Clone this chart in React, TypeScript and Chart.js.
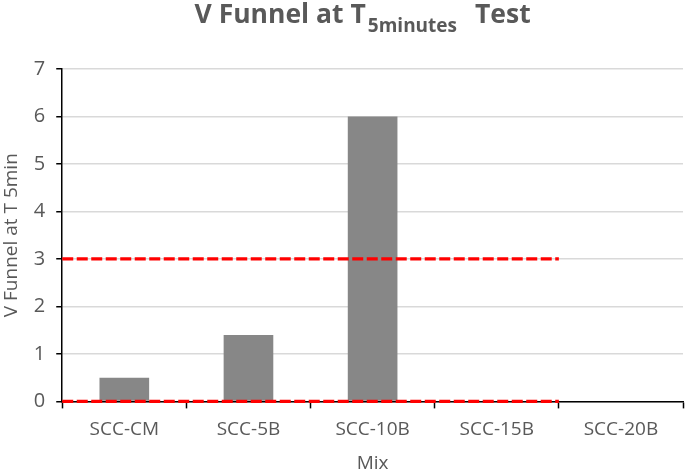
import React, { useEffect, useRef } from "react";
import { Chart, registerables } from "chart.js";

Chart.register(...registerables);

const categories = ["SCC-CM", "SCC-5B", "SCC-10B", "SCC-15B", "SCC-20B"];
const values = [0.5, 1.4, 6, 0, 0];
const upperLimit = [
  { x: -0.5, y: 3 },
  { x: 3.5, y: 3 },
];
const lowerLimit = [
  { x: -0.5, y: 0 },
  { x: 3.5, y: 0 },
];
const yTickMax = 7;
const titleMain = "V Funnel at T";
const titleSub = "5minutes";
const titleEnd = "Test";
const yTitle = "V Funnel at T 5min";
const xTitle = "Mix";

const FONT = '"Open Sans", sans-serif';
const TEXT = "#595959";

const titlePlugin = {
  id: "subTitle",
  afterDraw(chart: any) {
    const ctx = chart.ctx;
    const area = chart.chartArea;
    ctx.save();
    ctx.fillStyle = TEXT;
    ctx.textBaseline = "alphabetic";
    ctx.textAlign = "left";
    const mainFont = `bold 26.5px ${FONT}`;
    const subFont = `bold 19px ${FONT}`;
    ctx.font = mainFont;
    const w1 = ctx.measureText(titleMain).width;
    const w3 = ctx.measureText(titleEnd).width;
    ctx.font = subFont;
    const w2 = ctx.measureText(titleSub).width;
    const gap1 = 2;
    const gap2 = 18;
    const total = w1 + gap1 + w2 + gap2 + w3;
    const cx = (area.left + area.right) / 2 - 10;
    let x = cx - total / 2;
    const base = 23;
    ctx.font = mainFont;
    ctx.fillText(titleMain, x, base);
    x += w1 + gap1;
    ctx.font = subFont;
    ctx.fillText(titleSub, x, base + 9);
    x += w2 + gap2;
    ctx.font = mainFont;
    ctx.fillText(titleEnd, x, base);
    ctx.restore();
  },
};

export default function App() {
  const ref = useRef<HTMLCanvasElement | null>(null);
  useEffect(() => {
    if (!ref.current) return;
    const chart = new Chart(ref.current, {
      type: "bar",
      data: {
        labels: categories,
        datasets: [
          {
            type: "bar",
            data: values,
            backgroundColor: "#878787",
            borderWidth: 0,
            barPercentage: 0.4,
            categoryPercentage: 1,
            grouped: false,
            xAxisID: "x",
            order: 2,
          } as any,
          {
            type: "line",
            data: upperLimit,
            xAxisID: "x2",
            borderColor: "#ff0000",
            borderWidth: 3.2,
            borderDash: [11, 3.5],
            pointRadius: 0,
            clip: false,
            order: 1,
          } as any,
          {
            type: "line",
            data: lowerLimit,
            xAxisID: "x2",
            borderColor: "#ff0000",
            borderWidth: 3.2,
            borderDash: [11, 3.5],
            pointRadius: 0,
            clip: false,
            order: 1,
          } as any,
        ],
      },
      options: {
        responsive: false,
        animation: false,
        devicePixelRatio: 1,
        layout: { padding: { top: 69, right: 2, left: 0, bottom: 0 } },
        plugins: {
          legend: { display: false },
          title: { display: false },
          tooltip: { enabled: false },
        },
        scales: {
          x: {
            type: "category",
            offset: true,
            grid: {
              offset: true,
              drawOnChartArea: false,
              drawTicks: true,
              tickLength: 7,
              tickColor: "#000",
              tickWidth: 1.5,
            },
            border: { color: "#000", width: 1.5 },
            ticks: { color: TEXT, font: { family: FONT, size: 19 }, padding: 10 },
            title: {
              display: true,
              text: xTitle,
              color: TEXT,
              font: { family: FONT, size: 19 },
              padding: { top: 1, bottom: -4 },
            },
          },
          x2: {
            type: "linear",
            min: -0.5,
            max: 4.5,
            offset: false,
            grid: { offset: false },
            display: false,
          },
          y: {
            min: 0,
            max: yTickMax,
            ticks: {
              stepSize: 1,
              color: TEXT,
              font: { family: FONT, size: 20 },
              padding: 11,
            },
            grid: {
              color: "#d9d9d9",
              lineWidth: 1.5,
              tickColor: "#000",
              tickLength: 6,
              tickWidth: 1.5,
            },
            border: { color: "#000", width: 1.5 },
            title: {
              display: true,
              text: yTitle,
              color: TEXT,
              font: { family: FONT, size: 19 },
              padding: { top: 0, bottom: 0 },
            },
          },
        },
      },
      plugins: [titlePlugin],
    } as any);
    return () => chart.destroy();
  }, []);
  return (
    <div style={{ position: "fixed", left: 0, top: 0, width: 685, height: 471, background: "#fff" }}>
      <canvas ref={ref} width={685} height={471} style={{ display: "block" }} />
    </div>
  );
}
